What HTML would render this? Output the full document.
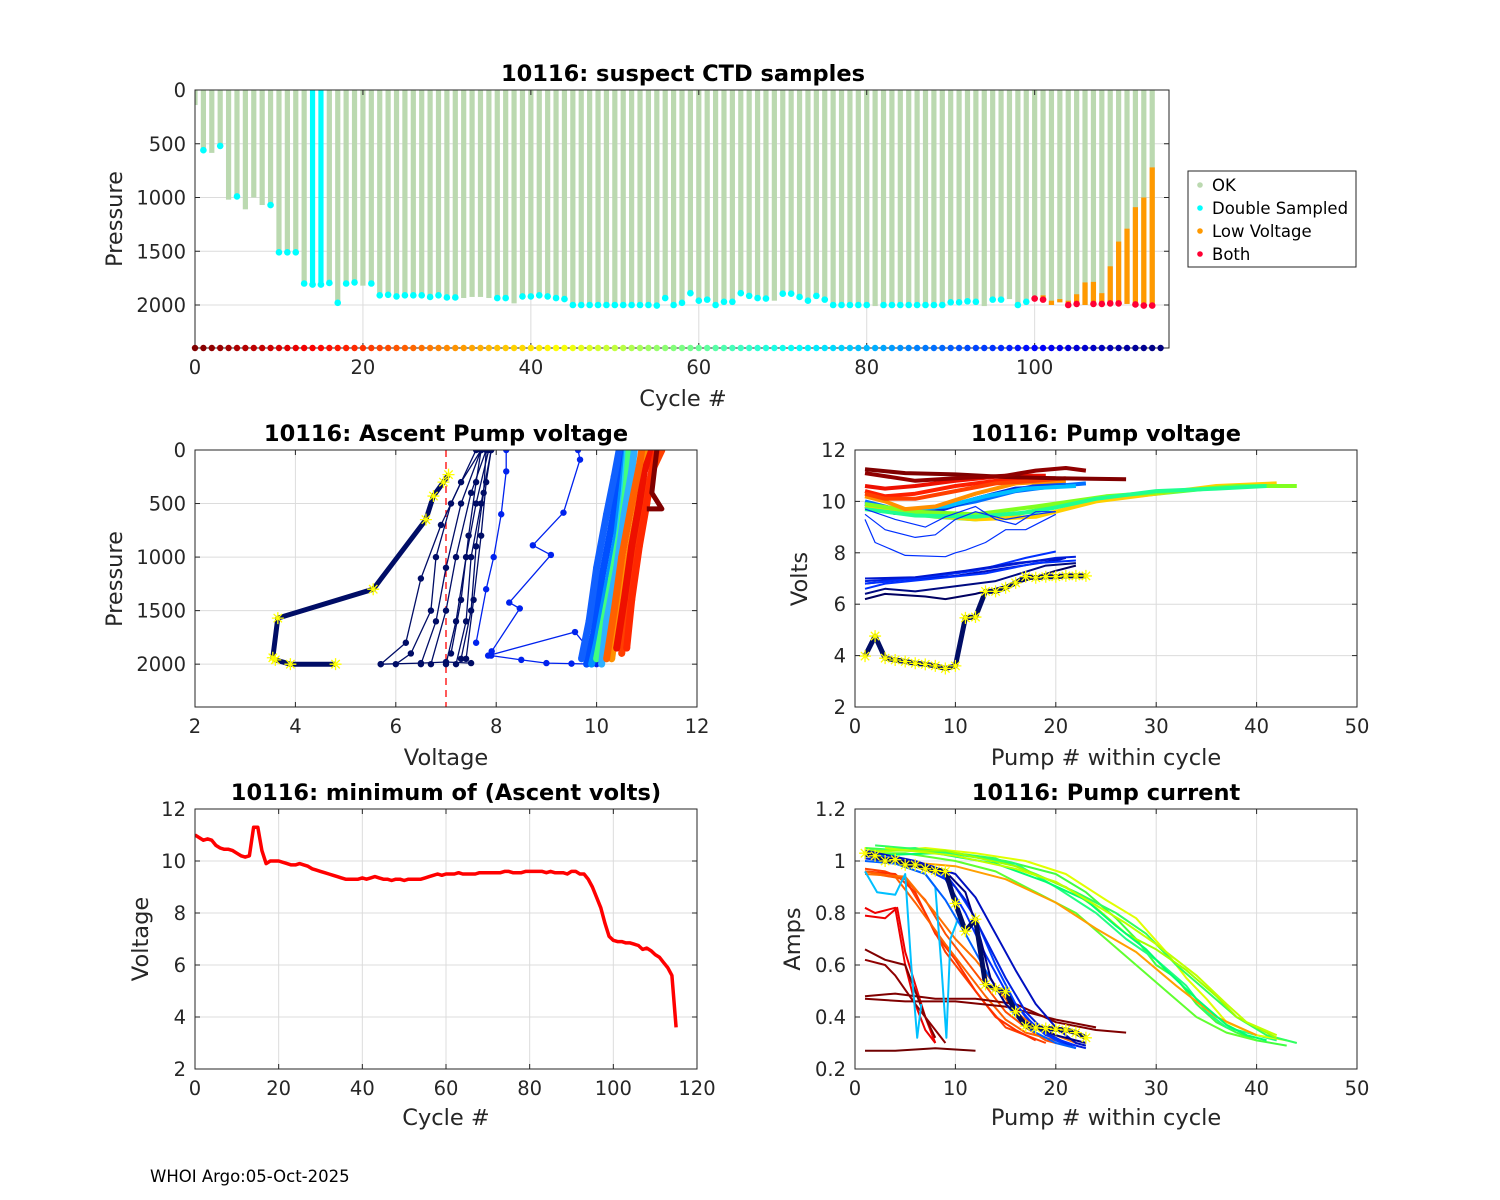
<!DOCTYPE html>
<html><head><meta charset="utf-8">
<style>
html,body{margin:0;padding:0;background:#fff;}
svg{display:block;font-family:"DejaVu Sans","Liberation Sans",sans-serif;}
.tk{font-size:19.5px;fill:#262626;}
.ttl{font-size:22.5px;font-weight:bold;fill:#000;}
.lab{font-size:22.5px;fill:#262626;}
</style></head>
<body>
<svg id="fig" width="1500" height="1200" viewBox="0 0 1500 1200" xmlns="http://www.w3.org/2000/svg">
<rect width="1500" height="1200" fill="#fff"/>
<text x="150" y="1182" font-size="16.5" fill="#000">WHOI Argo:05-Oct-2025</text>
</svg>
<script>
// ---------- Top panel data ----------
const cycleMaxP = [140,560,585,520,1020,990,1110,1000,1070,1070,1510,1510,1510,1800,1810,1810,1795,1980,1800,1790,1820,1800,
1910,1905,1920,1910,1910,1910,1925,1910,1930,1930,1935,1925,1925,1935,1935,1935,1985,1920,1920,1910,1920,1935,1945,
2000,2000,2000,2000,2000,2000,2000,2000,2000,2000,2005,1935,2000,
1980,1890,1960,1950,2000,1970,1970,1890,1915,1935,1940,1960,1895,1895,1925,1960,1915,1950,
2000,2000,2000,2000,2000,2010,2000,2000,2000,2000,2000,2000,2000,2000,1975,1975,1965,1970,2010,1950,1950,1945,2000,1970,
1940,1950,2000,1975,2000,1990,2000,1990,1990,1985,1985,1990,1995,2005,2005];
const cycleDS = [0,1,0,1,0,1,0,0,0,1,1,1,1,1,1,1,1,1,1,1,0,1,
1,1,1,1,1,1,1,1,1,1,0,0,0,0,1,1,0,1,1,1,1,1,1,
1,1,1,1,1,1,1,1,1,1,1,1,1,
1,1,1,1,1,1,1,1,1,1,1,0,1,1,1,1,1,1,
1,1,1,1,1,0,1,1,1,1,1,1,1,1,1,1,1,1,0,1,1,0,1,1,
0,0,0,0,0,0,0,0,0,0,0,0,0,0,0];
const fullCyanCycles = [14,15];
const lowVoltTop = {101:1910,102:1960,103:1945,104:1960,105:1900,106:1790,107:1785,108:1890,109:1640,110:1410,111:1290,112:1090,113:1000,114:720};
const bothCycles = [100,101,104,105,107,108,109,110,112,113,114];
const cycleCount = 116;
const topXTicks = [0,20,40,60,80,100];
const topYTicks = [0,500,1000,1500,2000];

// ---------- Ascent pump voltage (V, P) ----------
const ascStarV = [7.05,6.95,6.75,6.6,5.55,3.65,3.55,3.6,3.9,4.8];
const ascStarP = [230,300,430,650,1300,1570,1940,1960,2000,2000];
const ascNavy = [
 [[5.7,2000],[6.2,1800],[6.5,1200],[6.9,700],[7.3,300],[7.7,0]],
 [[6.0,2000],[6.3,1900],[6.7,1500],[6.8,1000],[7.1,500],[7.6,0]],
 [[6.5,2000],[6.8,1600],[7.0,1100],[7.3,500],[7.7,0]],
 [[6.7,2000],[7.0,1500],[7.2,1000],[7.5,400],[7.8,0]],
 [[7.0,2000],[7.2,1600],[7.4,1000],[7.6,500],[7.85,0]],
 [[7.2,2000],[7.4,1600],[7.5,1000],[7.7,500],[7.9,0]],
 [[7.3,1950],[7.5,1500],[7.6,900],[7.75,400],[7.8,0]],
 [[7.1,1900],[7.3,1400],[7.45,800],[7.6,300],[7.7,0]],
 [[7.4,1950],[7.55,1400],[7.7,800],[7.8,300],[7.9,0]],
 [[5.7,2000],[6.5,1990],[7.0,1980],[7.5,1990]]
];
const ascBlue = [
 [[7.6,1800],[7.8,1300],[7.95,1000],[8.1,600],[8.2,200],[8.2,0]],
 [[9.63,0],[9.67,90],[9.34,585],[8.73,890],[9.09,980],[8.26,1425],[8.47,1480],[7.91,1880],[7.84,1920],[9.57,1700],[10.0,1950]],
 [[7.9,1920],[8.5,1960],[9.0,1990],[9.5,1995],[10.0,2000]]
];
const bundleColors = ['#0050ff','#0090ff','#20d0ff','#40ff80','#1060ff','#30b0ff','#ff9000','#ff4000','#ee1000','#ff2800','#ff6000'];
const ascBundle = [
 [[9.8,2000],[9.95,1700],[10.1,1200],[10.3,700],[10.45,300],[10.5,0]],
 [[9.9,2000],[10.0,1800],[10.2,1300],[10.4,800],[10.5,400],[10.6,0]],
 [[10.1,1950],[10.15,1700],[10.3,1200],[10.45,800],[10.55,400],[10.62,0]],
 [[10.0,1950],[10.1,1700],[10.3,1200],[10.5,700],[10.6,300],[10.65,0]],
 [[9.7,1950],[9.85,1600],[10.0,1100],[10.2,600],[10.35,250],[10.45,0]],
 [[10.1,2000],[10.2,1600],[10.4,1100],[10.55,600],[10.7,200],[10.75,0]],
 [[10.3,1950],[10.4,1600],[10.6,1100],[10.8,600],[10.9,200],[11.0,0]],
 [[10.5,1900],[10.6,1500],[10.8,1000],[10.95,500],[11.1,200],[11.3,0]],
 [[10.4,1850],[10.55,1400],[10.7,900],[10.85,500],[10.95,200],[11.1,0]],
 [[10.6,1850],[10.7,1400],[10.85,900],[11.0,500],[11.1,200],[11.2,0]],
 [[10.2,1950],[10.35,1500],[10.5,1000],[10.7,500],[10.85,150],[10.9,0]]
];
const ascDarkRed = [[11.0,550],[11.3,550],[11.1,400],[11.15,200],[11.2,0]];
const ascXTicks = [2,4,6,8,10,12];
const ascYTicks = [0,500,1000,1500,2000];

// ---------- Pump voltage (pump#, volts) ----------
const pvStarV = [3.98,4.76,3.9,3.83,3.77,3.7,3.66,3.6,3.5,3.6,5.47,5.5,6.5,6.5,6.64,6.83,7.07,7.03,7.07,7.07,7.1,7.1,7.1];
const pvNavy = [
 [[1,6.9],[5,7.0],[10,7.2],[15,7.5],[20,7.8],[22,7.85]],
 [[1,6.8],[5,6.95],[10,7.1],[15,7.4],[20,7.7],[21,7.8]],
 [[1,6.6],[3,6.8],[8,7.0],[13,7.2],[18,7.6],[22,7.7]],
 [[1,6.4],[3,6.6],[6,6.5],[10,6.7],[14,6.9],[19,7.5],[22,7.6]],
 [[1,6.2],[3,6.4],[7,6.3],[9,6.2],[12,6.4],[16,6.8],[20,7.3],[22,7.5]],
 [[1,6.8],[6,7.0],[12,7.3],[17,7.8],[20,8.05]],
 [[1,7.0],[6,7.05],[11,7.3],[16,7.6],[21,7.8]]
];
const pvNavyColors = ['#0020e0','#0010c0','#0030ff','#000a80','#000060','#0030ff','#0018d0'];
const pvBlueLow = [
 [[1,9.3],[2,8.4],[5,7.9],[9,7.85],[10,8.0],[11,8.1],[13,8.4],[15,8.9],[17,8.9],[20,9.5]],
 [[1,9.5],[3,8.9],[6,8.6],[8,8.7],[10,9.3],[12,9.6],[15,9.3],[18,9.5],[20,9.6]],
 [[1,9.7],[4,9.3],[7,9.0],[9,9.4],[12,9.8],[14,9.3],[16,9.1],[18,9.6],[20,9.6]]
];
const pvBundle = [
 {c:'#0040ff',p:[[1,9.9],[3,9.7],[6,9.6],[10,9.9],[14,10.3],[18,10.6],[21,10.7]]},
 {c:'#0070ff',p:[[1,10.0],[4,9.7],[8,9.7],[12,10.0],[16,10.4],[20,10.6],[23,10.7]]},
 {c:'#0030e0',p:[[1,9.8],[4,9.55],[8,9.6],[12,10.1],[16,10.5],[21,10.6]]},
 {c:'#00c0ff',p:[[1,9.9],[4,9.65],[9,9.8],[13,10.2],[17,10.5],[22,10.6]]},
 {c:'#40ff60',p:[[1,9.8],[4,9.6],[8,9.4],[12,9.3],[16,9.5],[20,9.8],[25,10.1],[30,10.3],[35,10.5],[40,10.6],[43,10.6]]},
 {c:'#ffd000',p:[[1,9.8],[6,9.5],[12,9.3],[18,9.4],[24,10.0],[30,10.3],[36,10.6],[42,10.7]]},
 {c:'#80ff20',p:[[1,9.9],[6,9.6],[12,9.5],[18,9.8],[25,10.2],[32,10.4],[38,10.6],[44,10.6]]},
 {c:'#20ff90',p:[[1,9.7],[6,9.45],[12,9.4],[18,9.6],[24,10.1],[30,10.4],[36,10.5],[41,10.6]]},
 {c:'#ff9000',p:[[1,10.2],[3,10.0],[5,9.7],[8,9.8],[12,10.3],[16,10.7],[21,10.8]]},
 {c:'#ff2000',p:[[1,10.4],[3,10.2],[6,10.3],[10,10.6],[14,10.8],[18,10.9],[20,10.9]]},
 {c:'#ff4000',p:[[1,10.3],[3,10.1],[6,10.1],[10,10.4],[14,10.7],[18,10.8],[21,10.9]]},
 {c:'#ee1000',p:[[1,10.6],[3,10.5],[6,10.6],[10,10.8],[15,11.0],[19,11.0]]},
 {c:'#800000',p:[[1,11.25],[5,11.1],[10,11.05],[15,10.95],[20,10.9],[27,10.86]]},
 {c:'#900000',p:[[1,11.1],[6,10.8],[10,10.9],[15,11.0],[18,11.2],[21,11.3],[23,11.2]]}
];
const pvXTicks = [0,10,20,30,40,50];
const pvYTicks = [2,4,6,8,10,12];

// ---------- Min ascent volts per cycle ----------
const minVolts = [11.0,10.9,10.8,10.85,10.8,10.6,10.5,10.45,10.45,10.4,10.3,10.2,10.15,10.2,11.3,11.3,10.4,9.9,10.0,10.0,
10.0,9.95,9.9,9.85,9.85,9.9,9.85,9.8,9.7,9.65,9.6,9.55,9.5,9.45,9.4,9.35,9.3,9.3,9.3,9.3,
9.35,9.3,9.35,9.4,9.35,9.3,9.3,9.25,9.3,9.3,9.25,9.3,9.3,9.3,9.3,9.35,9.4,9.45,9.5,9.45,
9.5,9.5,9.5,9.55,9.5,9.5,9.5,9.5,9.55,9.55,9.55,9.55,9.55,9.55,9.6,9.6,9.55,9.55,9.55,9.6,
9.6,9.6,9.6,9.6,9.55,9.6,9.55,9.55,9.55,9.5,9.6,9.6,9.5,9.5,9.3,9.0,8.6,8.2,7.6,7.1,
6.95,6.9,6.9,6.85,6.85,6.8,6.75,6.6,6.65,6.55,6.4,6.3,6.1,5.9,5.6,3.6];
const mvXTicks = [0,20,40,60,80,100,120];
const mvYTicks = [2,4,6,8,10,12];

// ---------- Pump current (pump#, amps) ----------
const pcStarA = [1.03,1.02,1.0,1.005,0.985,0.985,0.97,0.963,0.96,0.837,0.73,0.776,0.525,0.508,0.497,0.42,0.365,0.358,0.356,0.353,0.35,0.34,0.32];
const pcLines = [
 {c:'#40ff40',p:[[1,1.05],[5,1.04],[10,1.03],[15,1.0],[20,0.95],[23,0.88],[26,0.78],[28,0.7],[30,0.6],[32,0.55],[34,0.45],[36,0.38],[38,0.34],[40,0.31],[43,0.29]]},
 {c:'#20ff80',p:[[1,1.04],[6,1.05],[11,1.02],[16,0.99],[20,0.9],[24,0.8],[27,0.7],[30,0.62],[33,0.52],[35,0.42],[37,0.36],[40,0.33],[42,0.31]]},
 {c:'#60ff30',p:[[1,1.03],[5,1.03],[10,1.0],[14,0.96],[18,0.88],[22,0.8],[25,0.7],[28,0.6],[31,0.5],[34,0.4],[37,0.34],[40,0.31]]},
 {c:'#e0ff00',p:[[1,1.03],[7,1.05],[12,1.03],[17,1.0],[21,0.95],[25,0.85],[28,0.78],[31,0.65],[33,0.55],[35,0.47],[37,0.38],[40,0.33],[43,0.31]]},
 {c:'#30ff60',p:[[2,1.06],[8,1.04],[14,1.01],[18,0.95],[22,0.88],[26,0.8],[29,0.72],[32,0.6],[35,0.5],[38,0.4],[41,0.33],[44,0.3]]},
 {c:'#ffa000',p:[[4,1.0],[10,0.98],[15,0.93],[20,0.84],[24,0.74],[28,0.65],[32,0.52],[36,0.4],[40,0.33]]},
 {c:'#a0ff00',p:[[1,1.04],[9,1.04],[16,0.98],[21,0.9],[24,0.82],[27,0.72],[30,0.66],[33,0.58],[36,0.48],[38,0.4],[42,0.32]]},
 {c:'#00ff70',p:[[1,1.02],[8,1.03],[14,0.99],[19,0.92],[23,0.85],[26,0.75],[29,0.66],[31,0.58],[34,0.47],[37,0.37],[39,0.33],[41,0.31]]},
 {c:'#c0ff00',p:[[3,1.05],[10,1.02],[16,0.97],[20,0.92],[24,0.83],[27,0.76],[30,0.68],[34,0.56],[37,0.45],[39,0.38],[42,0.33]]},
 {c:'#ff4000',p:[[1,0.97],[3,0.96],[5,0.93],[7,0.8],[9,0.65],[11,0.55],[13,0.45],[15,0.36],[17,0.33],[19,0.3]]},
 {c:'#ff3000',p:[[1,0.96],[4,0.95],[6,0.88],[8,0.72],[10,0.62],[12,0.5],[14,0.4],[16,0.35],[18,0.31]]},
 {c:'#ff5000',p:[[2,0.95],[5,0.93],[7,0.85],[9,0.72],[11,0.62],[13,0.52],[15,0.42],[17,0.36],[19,0.31],[20,0.3]]},
 {c:'#ff7000',p:[[1,0.95],[5,0.94],[8,0.8],[10,0.7],[12,0.62],[14,0.52],[16,0.42],[18,0.36],[20,0.33],[22,0.3]]},
 {c:'#ff6000',p:[[1,0.96],[4,0.94],[6,0.84],[9,0.68],[11,0.58],[13,0.48],[15,0.39],[17,0.34],[19,0.32],[21,0.3]]},
 {c:'#ee0000',p:[[1,0.82],[2,0.8],[4,0.82],[5,0.6],[6,0.45],[7,0.35],[8,0.3]]},
 {c:'#ee0000',p:[[1,0.79],[3,0.78],[4.2,0.82],[5,0.65],[7,0.4],[8,0.3]]},
 {c:'#800000',p:[[1,0.66],[3,0.62],[5,0.6],[6,0.5],[7,0.4],[8,0.32]]},
 {c:'#900000',p:[[1,0.62],[3,0.6],[4,0.56],[6,0.45],[8,0.35],[9,0.3]]},
 {c:'#800000',p:[[1,0.48],[4,0.49],[8,0.47],[12,0.47],[16,0.45],[20,0.38],[24,0.35],[27,0.34]]},
 {c:'#800000',p:[[1,0.47],[5,0.46],[10,0.46],[15,0.44],[20,0.39],[24,0.36]]},
 {c:'#700000',p:[[1,0.27],[4,0.27],[8,0.28],[12,0.27]]},
 {c:'#00c0ff',p:[[1,0.96],[2.2,0.88],[4,0.87],[5,0.95],[5.6,0.6],[6.2,0.32],[6.6,0.45]]},
 {c:'#00c0ff',p:[[7,0.95],[8,0.9],[8.6,0.6],[9.1,0.32],[9.5,0.7],[10.5,0.8]]},
 {c:'#0040ff',p:[[1,1.03],[5,1.0],[8,0.97],[10,0.9],[12,0.78],[14,0.6],[16,0.45],[18,0.36],[20,0.31],[22,0.28]]},
 {c:'#0020e0',p:[[1,1.01],[5,0.99],[9,0.95],[11,0.85],[13,0.7],[15,0.55],[17,0.42],[19,0.34],[21,0.3],[23,0.28]]},
 {c:'#0060ff',p:[[1,1.0],[4,0.99],[7,0.95],[9,0.85],[11,0.72],[13,0.58],[15,0.45],[17,0.36],[20,0.3],[22,0.28]]},
 {c:'#0010c0',p:[[1,1.04],[6,1.0],[10,0.95],[12,0.86],[14,0.72],[16,0.58],[18,0.45],[20,0.36],[22,0.3],[23,0.29]]},
 {c:'#0030ff',p:[[1,1.02],[6,0.99],[9,0.93],[11,0.8],[13,0.64],[15,0.5],[17,0.4],[19,0.33],[22,0.29]]},
 {c:'#000080',p:[[1,1.02],[5,1.0],[9,0.96],[11,0.88],[12.5,0.7],[13.5,0.55],[15,0.45],[17,0.38],[20,0.33],[23,0.3]]}
];
const pcXTicks = [0,10,20,30,40,50];
const pcYTicks = [0.2,0.4,0.6,0.8,1,1.2];

// ---------- helpers ----------
const NS='http://www.w3.org/2000/svg';
const svg=document.getElementById('fig');
function mk(tag,attrs,parent){const e=document.createElementNS(NS,tag);for(const k in attrs)e.setAttribute(k,attrs[k]);(parent||svg).appendChild(e);return e;}
function jet(t){const c=v=>Math.round(255*Math.max(0,Math.min(1,v)));return 'rgb('+c(1.5-Math.abs(4*t-3))+','+c(1.5-Math.abs(4*t-2))+','+c(1.5-Math.abs(4*t-1))+')';}
function axes(name,L,T,R,B,x0,x1,y0,y1,xt,yt,fmt){
  const sx=v=>L+(v-x0)/(x1-x0)*(R-L);
  const sy=v=>B-(v-y0)/(y1-y0)*(B-T);
  const g=mk('g',{});
  
  
  mk('rect',{x:L,y:T,width:R-L,height:B-T,fill:'#fff'},g);
  xt.forEach(v=>{const l=mk('line',{x1:sx(v),x2:sx(v),y1:T,y2:B,stroke:'#dcdcdc','stroke-width':1},g);
    });
  yt.forEach(v=>{const l=mk('line',{x1:L,x2:R,y1:sy(v),y2:sy(v),stroke:'#dcdcdc','stroke-width':1},g);
    });
  const cid='clip-'+name;
  const cp=mk('clipPath',{id:cid},g);mk('rect',{x:L,y:T,width:R-L,height:B-T},cp);
  const plot=mk('g',{'clip-path':'url(#'+cid+')'});
  
  
  return {sx,sy,plot,finish:function(){
    const f=mk('g',{});
    
    
    mk('rect',{x:L,y:T,width:R-L,height:B-T,fill:'none',stroke:'#262626','stroke-width':1},f);
    xt.forEach(v=>{mk('line',{x1:sx(v),x2:sx(v),y1:B,y2:B-5,stroke:'#262626'},f);mk('line',{x1:sx(v),x2:sx(v),y1:T,y2:T+5,stroke:'#262626'},f);
      const t=mk('text',{x:sx(v),y:B+26,'text-anchor':'middle',class:'tk'},f);t.textContent=fmt?fmt(v):v;
      });
    yt.forEach(v=>{mk('line',{x1:L,x2:L+5,y1:sy(v),y2:sy(v),stroke:'#262626'},f);mk('line',{x1:R,x2:R-5,y1:sy(v),y2:sy(v),stroke:'#262626'},f);
      const t=mk('text',{x:L-9,y:sy(v)+7,'text-anchor':'end',class:'tk'},f);t.textContent=fmt?fmt(v):v;
      });
  }};
}
function txt(s,x,y,cls,nm,rot){const t=mk('text',{x:x,y:y,'text-anchor':'middle',class:cls});if(rot)t.setAttribute('transform','rotate(-90 '+x+' '+y+')');t.textContent=s;
  return t;}
function poly(A,pts,color,w,nm,parent){const d=pts.map((p,i)=>(i?'L':'M')+A.sx(p[0]).toFixed(1)+','+A.sy(p[1]).toFixed(1)).join('');
  const p=mk('path',{d:d,fill:'none',stroke:color,'stroke-width':w,'stroke-linejoin':'round'},parent||A.plot);
  return p;}
function dot(A,x,y,r,color,nm,parent){const c=mk('circle',{cx:A.sx(x),cy:A.sy(y),r:r,fill:color},parent||A.plot);
  return c;}
function star(A,x,y,nm){const cx=A.sx(x),cy=A.sy(y),s=6;
  const p=mk('path',{d:`M${cx-s},${cy}H${cx+s}M${cx},${cy-s}V${cy+s}M${cx-s*.7},${cy-s*.7}L${cx+s*.7},${cy+s*.7}M${cx-s*.7},${cy+s*.7}L${cx+s*.7},${cy-s*.7}`,stroke:'#ffff00','stroke-width':1.3,fill:'none'},A.plot);
  }

// ---------- Top panel ----------
(function(){
  const A=axes('ctd',195,90,1169,348,0,116,2400,0,topXTicks,topYTicks);
  for(let c=0;c<cycleMaxP.length;c++){
    const x=A.sx(c);
    const full=fullCyanCycles.indexOf(c)>=0;
    const b=mk('rect',{x:x-2.6,y:A.sy(-25),width:5.2,height:A.sy(cycleMaxP[c])-A.sy(-25),fill:full?'#00ffff':'#bbd9b0'},A.plot);
    
    
    if(lowVoltTop[c]!==undefined){
      const o=mk('rect',{x:x-2.6,y:A.sy(lowVoltTop[c]),width:5.2,height:A.sy(cycleMaxP[c])-A.sy(lowVoltTop[c]),fill:'#ff9900'},A.plot);
      
      
    }
    if(cycleDS[c]) dot(A,c,cycleMaxP[c],3.3,'#00ffff','double-sampled-dot');
    if(bothCycles.indexOf(c)>=0) dot(A,c,cycleMaxP[c],3.3,'#ff0033','both-dot');
  }
  A.finish();
  for(let c=0;c<cycleCount;c++) dot(A,c,2400,3.2,jet(1-c/(cycleCount-1)),'cycle-color-dot',svg);
  txt('10116: suspect CTD samples',683,81,'ttl','top-chart-title');
  txt('Cycle #',683,406,'lab','top-x-axis-title');
  txt('Pressure',122,219,'lab','top-y-axis-title',true);
  // legend
  const lg=mk('g',{});
  
  
  mk('rect',{x:1188,y:171,width:168,height:96,fill:'#fff',stroke:'#262626'},lg);
  [['OK','#bbd9b0'],['Double Sampled','#00ffff'],['Low Voltage','#ff9900'],['Both','#ff0033']].forEach((e,i)=>{
    const y=185+i*23;
    const it=mk('g',{},lg);
    
    
    mk('circle',{cx:1200,cy:y,r:2.8,fill:e[1]},it);
    const t=mk('text',{x:1212,y:y+6,'font-size':'16.5',fill:'#000'},it);t.textContent=e[0];
  });
})();

// ---------- Ascent pump voltage ----------
(function(){
  const A=axes('ascent',195,450,697,707,2,12,2400,0,ascXTicks,ascYTicks);
  const dl=poly(A,[[7,0],[7,2400]],'#ff0000',1.3,'threshold-line');dl.setAttribute('stroke-dasharray','7,5');
  ascNavy.forEach(l=>{poly(A,l,'#000d66',1.3,'navy-profile');l.forEach(p=>dot(A,p[0],p[1],3.2,'#000d66','navy-point'));});
  ascBlue.forEach(l=>{poly(A,l,'#0022ee',1.3,'blue-profile');l.forEach(p=>dot(A,p[0],p[1],3.2,'#0022ee','blue-point'));});
  ascBundle.forEach((l,i)=>{poly(A,l,bundleColors[i],7,'bundle-profile');l.forEach(p=>dot(A,p[0],p[1],3.5,bundleColors[i],'bundle-point'));});
  poly(A,ascDarkRed,'#800000',5,'dark-red-profile');
  poly(A,ascStarV.map((v,i)=>[v,ascStarP[i]]),'#000d66',5,'low-voltage-profile');
  ascStarV.forEach((v,i)=>star(A,v,ascStarP[i],'low-voltage-star'));
  A.finish();
  txt('10116: Ascent Pump voltage',446,441,'ttl','ascent-chart-title');
  txt('Voltage',446,765,'lab','ascent-x-axis-title');
  txt('Pressure',122,579,'lab','ascent-y-axis-title',true);
})();

// ---------- Pump voltage ----------
(function(){
  const A=axes('pumpv',855,450,1357,707,0,50,2,12,pvXTicks,pvYTicks);
  pvBundle.forEach(l=>poly(A,l.p,l.c,4,'pump-voltage-line'));
  pvBlueLow.forEach(l=>poly(A,l,'#0030ff',1.2,'pump-voltage-blue-line'));
  pvNavy.forEach((l,i)=>poly(A,l,pvNavyColors[i],2,'pump-voltage-navy-line'));
  const pts=pvStarV.map((v,i)=>[i+1,v]);
  poly(A,pts,'#000d66',5,'last-cycle-voltage-line');
  pts.forEach(p=>star(A,p[0],p[1],'last-cycle-star'));
  A.finish();
  txt('10116: Pump voltage',1106,441,'ttl','pump-voltage-title');
  txt('Pump # within cycle',1106,765,'lab','pump-voltage-x-axis-title');
  txt('Volts',807,579,'lab','pump-voltage-y-axis-title',true);
})();

// ---------- Minimum ascent volts ----------
(function(){
  const A=axes('minv',195,809,697,1069,0,120,2,12,mvXTicks,mvYTicks);
  poly(A,minVolts.map((v,i)=>[i,v]),'#ff0000',3.5,'min-voltage-line');
  A.finish();
  txt('10116: minimum of (Ascent volts)',446,800,'ttl','min-voltage-title');
  txt('Cycle #',446,1125,'lab','min-voltage-x-axis-title');
  txt('Voltage',148,939,'lab','min-voltage-y-axis-title',true);
})();

// ---------- Pump current ----------
(function(){
  const A=axes('pumpc',855,809,1357,1069,0,50,0.2,1.2,pcXTicks,pcYTicks,v=>(Math.round(v*10)/10).toString());
  pcLines.forEach(l=>poly(A,l.p,l.c,2,'pump-current-line'));
  const pts=pcStarA.map((v,i)=>[i+1,v]);
  poly(A,pts,'#000d66',5,'last-cycle-current-line');
  pts.forEach(p=>star(A,p[0],p[1],'last-cycle-current-star'));
  A.finish();
  txt('10116: Pump current',1106,800,'ttl','pump-current-title');
  txt('Pump # within cycle',1106,1125,'lab','pump-current-x-axis-title');
  txt('Amps',800,939,'lab','pump-current-y-axis-title',true);
})();
</script>
</body></html>
